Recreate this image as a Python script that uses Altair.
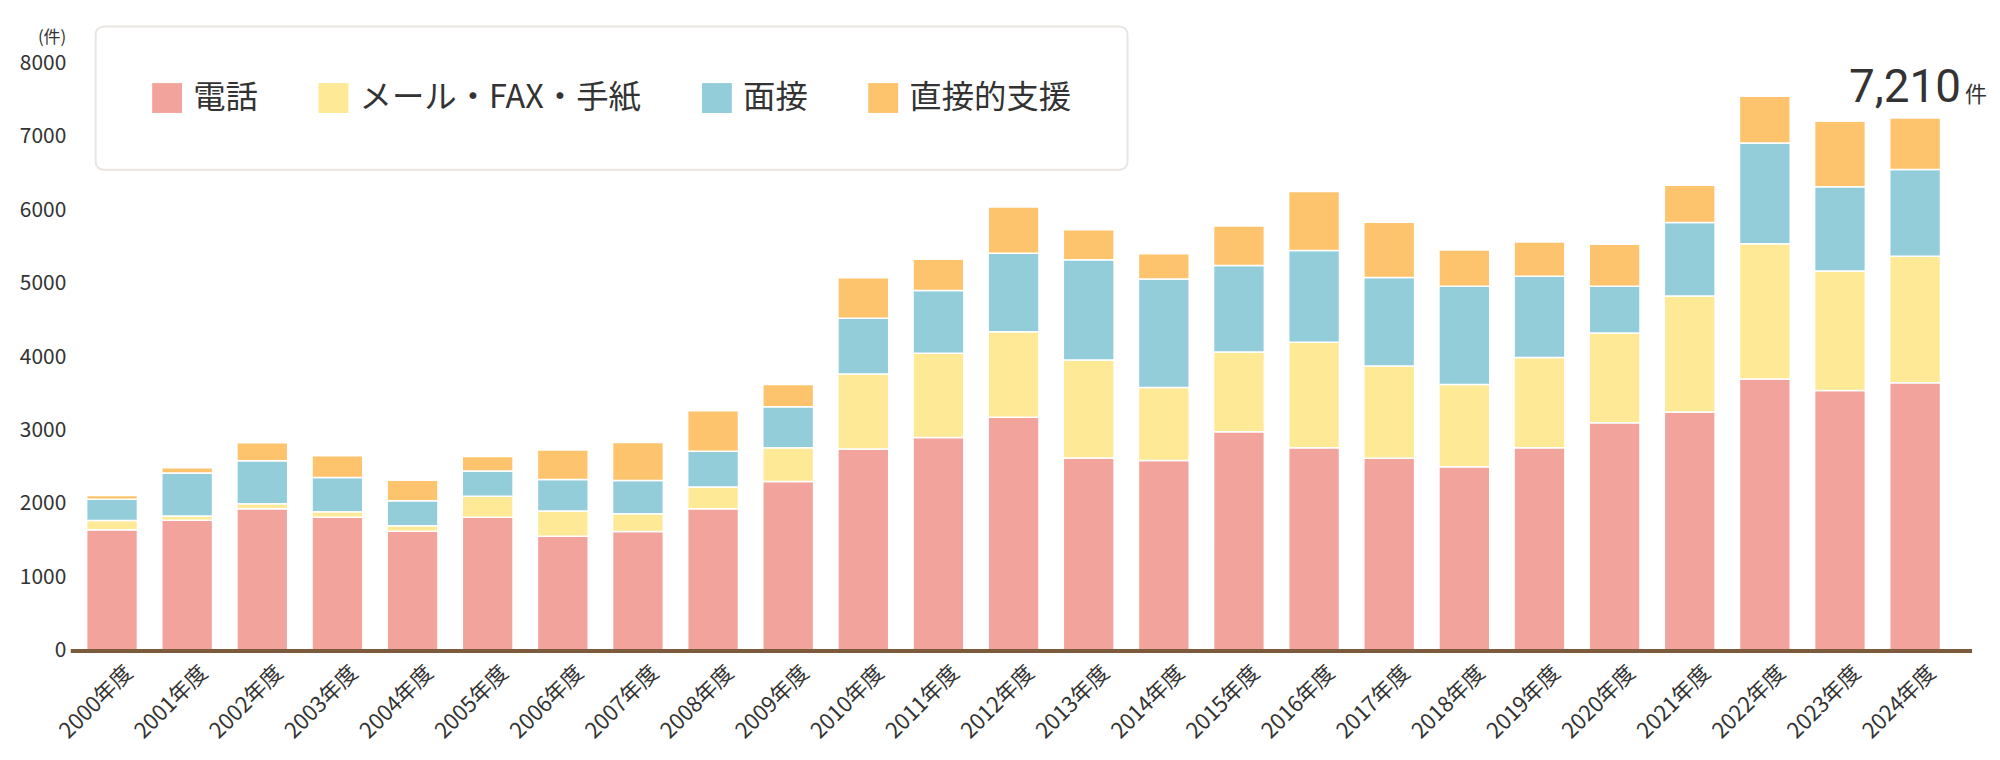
import altair as alt
import pandas as pd

years = ["2000年度", "2001年度", "2002年度", "2003年度", "2004年度", "2005年度",
         "2006年度", "2007年度", "2008年度", "2009年度", "2010年度", "2011年度",
         "2012年度", "2013年度", "2014年度", "2015年度", "2016年度", "2017年度",
         "2018年度", "2019年度", "2020年度", "2021年度", "2022年度", "2023年度",
         "2024年度"]

types = ["電話", "メール・FAX・手紙", "面接", "直接的支援"]
colors = ["#f2a49c", "#fee996", "#94cdda", "#fec36d"]

phone = [1650, 1780, 1935, 1820, 1630, 1820, 1560, 1625, 1935, 2307, 2750, 2905,
         3180, 2628, 2594, 2985, 2766, 2623, 2508, 2766, 3105, 3254, 3702, 3547, 3650]
mail = [125, 57, 68, 75, 75, 287, 344, 241, 297, 459, 1021, 1148,
        1165, 1332, 993, 1085, 1435, 1256, 1119, 1228, 1222, 1578, 1842, 1624, 1722]
face = [290, 586, 585, 465, 340, 344, 431, 454, 488, 557, 758, 855,
        1068, 1366, 1475, 1176, 1251, 1206, 1337, 1108, 637, 999, 1371, 1148, 1182]
direct = [50, 69, 247, 298, 280, 196, 401, 516, 551, 304, 551, 424,
          631, 407, 344, 540, 803, 751, 494, 465, 574, 510, 637, 891, 700]

y_ticks = [0, 1000, 2000, 3000, 4000, 5000, 6000, 7000, 8000]
annot_year = "2024年度"
annot_value = "7,210"
annot_unit = "件"
y_unit = "(件)"

series = [phone, mail, face, direct]
rows = []
for k, (name, vals) in enumerate(zip(types, series)):
    for yr, v in zip(years, vals):
        rows.append({"year": yr, "type": name, "value": v, "order": k})
df = pd.DataFrame(rows)

idx = years.index(annot_year)
ann_total = phone[idx] + mail[idx] + face[idx] + direct[idx]
ann = pd.DataFrame({"year": [annot_year], "total": [ann_total],
                    "label": [annot_value], "unit": [annot_unit]})

FONT = "Noto Sans CJK JP"
TXT = "#333333"

x_enc = alt.X("year:N", sort=years,
              scale=alt.Scale(paddingInner=0.324, paddingOuter=0.316, align=0.335),
              axis=alt.Axis(title=None, domain=False, ticks=False, labelAngle=-45,
                            labelAlign="right", labelBaseline="top",
                            labelFontSize=22, labelFont=FONT, labelColor=TXT,
                            labelPadding=11, labelOffset=10))
y_scale = alt.Scale(domain=[0, 8000], nice=False)

bars = alt.Chart(df).mark_bar(stroke="white", strokeWidth=1.5).encode(
    x=x_enc,
    y=alt.Y("value:Q", stack="zero", scale=y_scale,
            axis=alt.Axis(values=y_ticks, grid=False, domain=False, ticks=False,
                          labelFontSize=21, labelFont=FONT, labelColor=TXT,
                          labelPadding=5, format="d",
                          title=y_unit, titleAngle=0, titleAlign="right",
                          titleBaseline="middle", titleX=-5, titleY=-26,
                          titleFontSize=17, titleFontWeight="normal",
                          titleFont=FONT, titleColor=TXT)),
    color=alt.Color("type:N", scale=alt.Scale(domain=types, range=colors),
                    legend=alt.Legend(title=None, orient="none", legendX=25, legendY=-37,
                                      direction="horizontal", symbolType="square",
                                      symbolSize=900, symbolStrokeWidth=0,
                                      labelFontSize=32.5, labelFont=FONT, labelColor=TXT,
                                      labelOffset=10, columnPadding=59, padding=55.5,
                                      fillColor="white", strokeColor="#e9e5e0",
                                      cornerRadius=8, labelLimit=0)),
    order=alt.Order("order:Q", sort="ascending"),
)

rule = alt.Chart(pd.DataFrame({"v": [0]})).mark_rule(
    color="#7b5b3b", strokeWidth=4).encode(y=alt.Y("v:Q", scale=y_scale))

t_value = alt.Chart(ann).mark_text(align="right", baseline="alphabetic", dx=46, dy=-16,
                                   font="Roboto", fontSize=46, color=TXT).encode(
    x=alt.X("year:N", sort=years), y=alt.Y("total:Q", scale=y_scale), text="label:N")
t_unit = alt.Chart(ann).mark_text(align="left", baseline="alphabetic", dx=50, dy=-16,
                                  font=FONT, fontSize=22, color=TXT).encode(
    x=alt.X("year:N", sort=years), y=alt.Y("total:Q", scale=y_scale), text="unit:N")

chart = alt.layer(bars, rule, t_value, t_unit).properties(
    width=1909, height=590,
    padding={"left": 63, "top": 54, "right": 20, "bottom": 108},
    autosize=alt.AutoSizeParams(type="none"),
    background="white",
).configure_view(strokeWidth=0).configure_legend(strokeWidth=2)

chart.save("out.html", embed_options={"renderer": "svg", "actions": False})
